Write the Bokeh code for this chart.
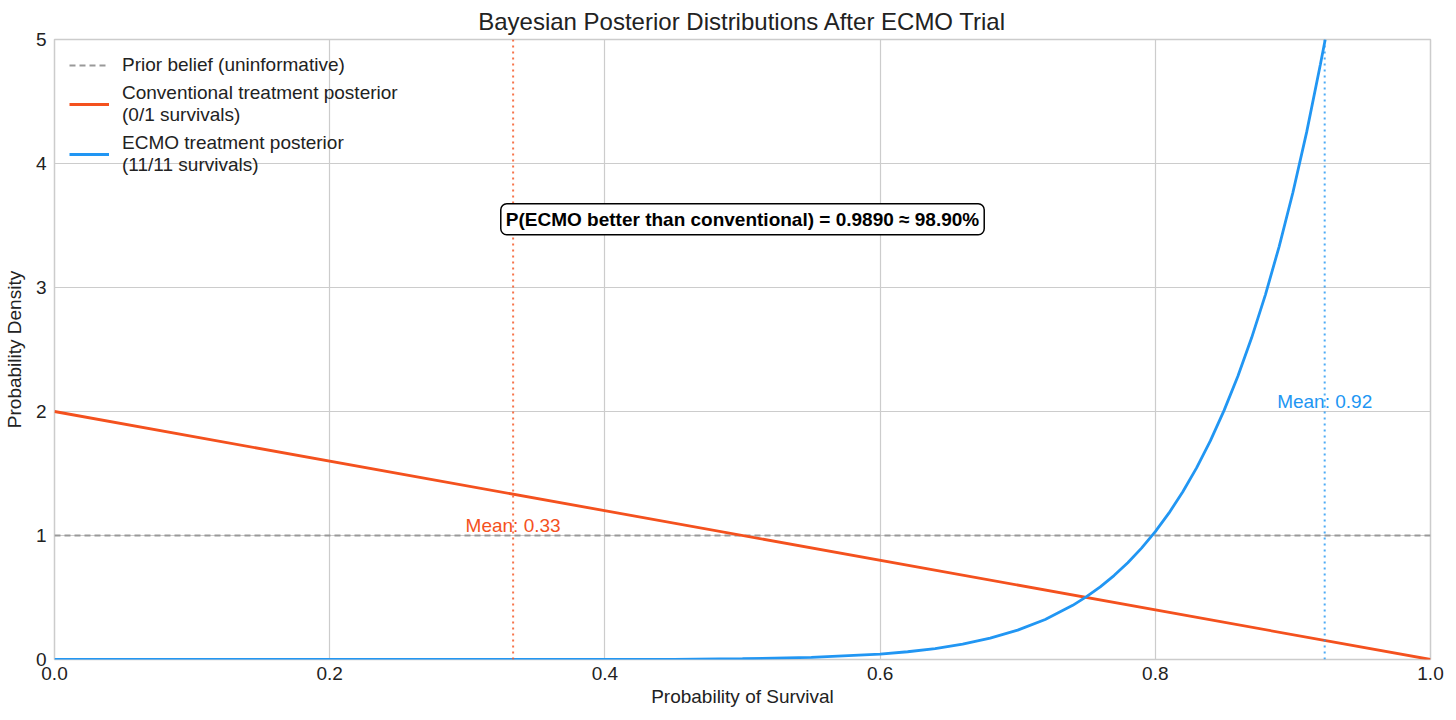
from bokeh.plotting import figure
from bokeh.models import Label, FixedTicker, CustomJSTickFormatter, Legend, LegendItem
from bokeh.embed import file_html
from bokeh.resources import INLINE

# Data
prior_x = [0.0, 1.0]
prior_y = [1.0, 1.0]
conv_x = [0.0, 1.0]
conv_y = [2.0, 0.0]
ecmo_x = [0.0, 0.2, 0.3, 0.4, 0.45, 0.5, 0.55, 0.6, 0.62, 0.64, 0.66, 0.68, 0.70, 0.72, 0.74,
          0.75, 0.76, 0.77, 0.78, 0.79, 0.80, 0.81, 0.82, 0.83, 0.84, 0.85, 0.86, 0.87,
          0.88, 0.89, 0.90, 0.91, 0.92, 0.9235]
ecmo_y = [0.0, 0.0, 0.00002, 0.0005, 0.0018, 0.0059, 0.0167, 0.0435, 0.0624, 0.0885, 0.124, 0.173, 0.237, 0.323, 0.437,
          0.507, 0.586, 0.677, 0.780, 0.898, 1.031, 1.182, 1.353, 1.545, 1.763, 2.009, 2.284, 2.594,
          2.941, 3.330, 3.766, 4.253, 4.80, 5.0]
conv_mean = 0.3333
ecmo_mean = 0.9231
prob_text = "P(ECMO better than conventional) = 0.9890 \u2248 98.90%"
x_ticks = [0.0, 0.2, 0.4, 0.6, 0.8, 1.0]
y_ticks = [0, 1, 2, 3, 4, 5]

RED = "#f4511e"
BLUE = "#2196f3"
GRAY = "#999999"
FONT = "Liberation Sans"
FS = "19px"

p = figure(width=1448, height=712, x_range=(0, 1), y_range=(0, 5),
           output_backend="svg", toolbar_location=None,
           min_border_left=44, min_border_right=18, min_border_top=32, min_border_bottom=53)

p.title.text = "Bayesian Posterior Distributions After ECMO Trial"
p.title.align = "center"
p.title.text_font = FONT
p.title.text_font_size = "24px"
p.title.text_font_style = "normal"
p.title.text_color = "#222222"

p.outline_line_color = "#cccccc"
p.outline_line_width = 1.5
p.background_fill_color = "white"
p.border_fill_color = "white"

for ax in (p.xaxis, p.yaxis):
    ax.axis_line_color = None
    ax.major_tick_line_color = None
    ax.minor_tick_line_color = None
    ax.major_tick_out = 0
    ax.major_tick_in = 0
    ax.minor_tick_out = 0
    ax.minor_tick_in = 0
    ax.major_label_text_font = FONT
    ax.major_label_text_font_size = FS
    ax.major_label_text_color = "#222222"
    ax.major_label_text_line_height = 1.0
    ax.axis_label_text_font = FONT
    ax.axis_label_text_font_size = FS
    ax.axis_label_text_font_style = "normal"
    ax.axis_label_text_color = "#222222"
    ax.axis_label_text_line_height = 1.0

p.xaxis.axis_label = "Probability of Survival"
p.yaxis.axis_label = "Probability Density"
p.xaxis.ticker = FixedTicker(ticks=x_ticks)
p.yaxis.ticker = FixedTicker(ticks=y_ticks)
p.xaxis.formatter = CustomJSTickFormatter(code="return tick.toFixed(1);")
p.yaxis.formatter = CustomJSTickFormatter(code="return tick.toFixed(0);")
p.xaxis.major_label_standoff = 7
p.yaxis.major_label_standoff = 8
p.xaxis.axis_label_standoff = 3
p.yaxis.axis_label_standoff = 8

p.xgrid.grid_line_color = "#cccccc"
p.ygrid.grid_line_color = "#cccccc"
p.xgrid.grid_line_width = 1.2
p.ygrid.grid_line_width = 1.2

r_prior = p.line(prior_x, prior_y, line_color=GRAY, line_width=2, line_dash="6 4")
r_conv = p.line(conv_x, conv_y, line_color=RED, line_width=2.8)
r_ecmo = p.line(ecmo_x, ecmo_y, line_color=BLUE, line_width=2.8)

p.line([conv_mean, conv_mean], [0, 5], line_color=RED, line_alpha=0.8, line_width=2, line_dash="2 4")
p.line([ecmo_mean, ecmo_mean], [0, 5], line_color=BLUE, line_alpha=0.8, line_width=2, line_dash="2 4")

p.add_layout(Label(x=conv_mean, y=1.0, text="Mean: 0.33", text_color=RED, text_font=FONT,
                   text_font_size=FS, text_align="center", text_baseline="bottom"))
p.add_layout(Label(x=ecmo_mean, y=2.0, text="Mean: 0.92", text_color=BLUE, text_font=FONT,
                   text_font_size=FS, text_align="center", text_baseline="bottom"))

p.add_layout(Label(x=0.5, y=3.55, text=prob_text, text_color="black", text_font=FONT,
                   text_font_size=FS, text_font_style="bold", text_align="center",
                   text_baseline="middle", border_line_color="black", border_line_width=1.5,
                   background_fill_color="white", border_radius=6, padding=5))

legend = Legend(items=[
    LegendItem(label="Prior belief (uninformative)", renderers=[r_prior]),
    LegendItem(label="Conventional treatment posterior\n(0/1 survivals)", renderers=[r_conv]),
    LegendItem(label="ECMO treatment posterior\n(11/11 survivals)", renderers=[r_ecmo]),
], location="top_left")
legend.border_line_color = None
legend.background_fill_alpha = 0
legend.label_text_font = FONT
legend.label_text_font_size = FS
legend.label_text_line_height = 1.0
legend.label_text_color = "#222222"
legend.glyph_width = 40
legend.spacing = 6
legend.margin = 15
legend.padding = 6
legend.label_standoff = 13
p.add_layout(legend)

open("out.html", "w").write(file_html(p, INLINE))
